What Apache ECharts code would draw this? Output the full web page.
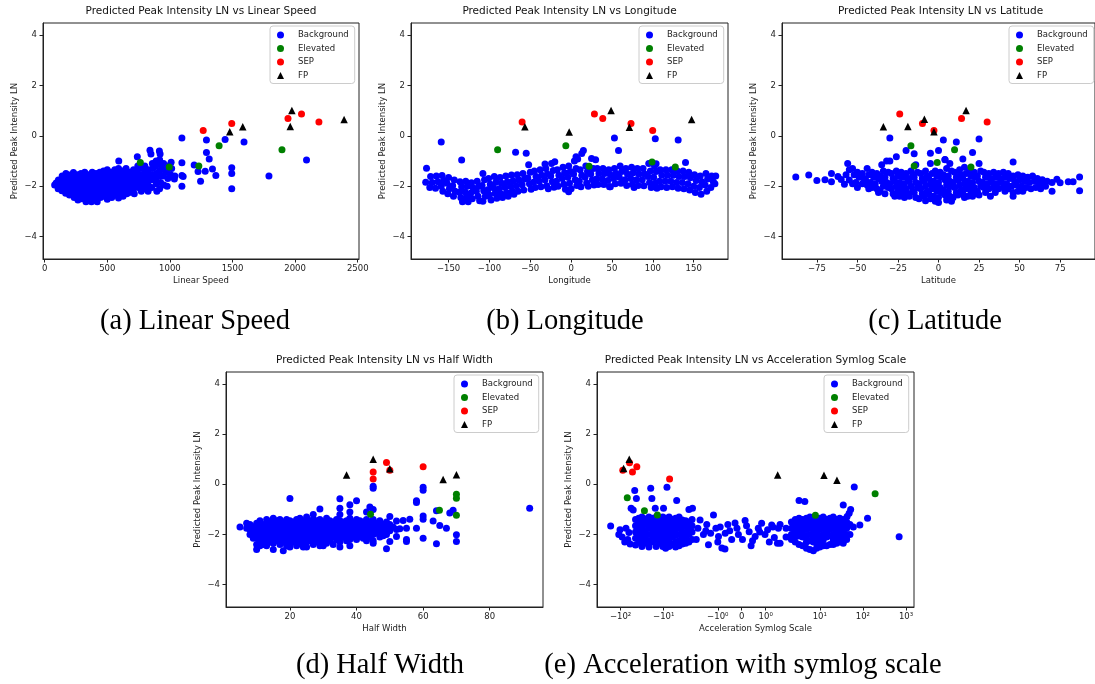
<!DOCTYPE html>
<html>
<head>
<meta charset="utf-8">
<script src="https://cdn.jsdelivr.net/npm/echarts@6/dist/echarts.min.js"></script>
<style>
  html, body { margin: 0; padding: 0; background: #fff; }
  #chart { width: 1095px; height: 684px; }
</style>
</head>
<body>
<div id="chart"></div>
<script>
// categories shared by every panel
const classNames = ['Background', 'Elevated', 'SEP', 'FP'];
const classColors = ['#0000ff', '#008000', '#ff0000', '#000000'];
const yTicks = [-4, -2, 0, 2, 4];

// (a) Linear Speed
const speedTicks = [0, 500, 1000, 1500, 2000, 2500];
const speedBg = [
  [80,-1.95],[92,-1.87],[110,-1.76],[115,-1.97],[108,-2.1],
  [140,-1.6],[135,-1.81],[145,-2.0],[138,-2.18],
  [170,-1.5],[175,-1.7],[165,-1.9],[172,-2.1],[168,-2.28],
  [200,-1.56],[205,-1.76],[196,-1.95],[202,-2.15],[198,-2.35],
  [230,-1.46],[226,-1.66],[234,-1.85],[228,-2.05],[232,-2.25],[236,-2.45],
  [260,-1.55],[264,-1.75],[258,-1.95],[262,-2.15],[256,-2.35],[266,-2.55],
  [290,-1.5],[286,-1.7],[294,-1.9],[288,-2.1],[292,-2.3],[296,-2.5],
  [320,-1.45],[324,-1.65],[318,-1.85],[322,-2.05],[316,-2.25],[326,-2.45],[330,-2.62],
  [350,-1.55],[354,-1.75],[348,-1.95],[352,-2.15],[346,-2.35],[356,-2.55],
  [380,-1.45],[376,-1.65],[384,-1.85],[378,-2.05],[382,-2.25],[386,-2.45],[374,-2.62],
  [410,-1.5],[414,-1.7],[408,-1.9],[412,-2.1],[406,-2.3],[416,-2.5],[420,-2.62],
  [440,-1.45],[444,-1.65],[438,-1.85],[442,-2.05],[436,-2.25],[446,-2.45],
  [470,-1.4],[466,-1.6],[474,-1.8],[468,-2.0],[472,-2.2],[476,-2.4],
  [500,-1.35],[504,-1.55],[498,-1.75],[502,-1.95],[496,-2.15],[506,-2.35],[500,-2.52],
  [530,-1.45],[534,-1.65],[528,-1.85],[532,-2.05],[526,-2.25],[536,-2.45],
  [560,-1.35],[556,-1.55],[564,-1.75],[558,-1.95],[562,-2.15],[566,-2.35],
  [592,-1.0],[590,-1.3],[594,-1.5],[588,-1.7],[592,-1.9],[586,-2.1],[596,-2.3],[590,-2.47],
  [620,-1.4],[624,-1.6],[618,-1.8],[622,-2.0],[616,-2.2],[626,-2.4],
  [650,-1.3],[646,-1.5],[654,-1.7],[648,-1.9],[652,-2.1],[656,-2.3],
  [680,-1.45],[684,-1.65],[678,-1.85],[682,-2.05],[676,-2.25],
  [710,-1.35],[714,-1.55],[708,-1.75],[712,-1.95],[706,-2.15],[716,-2.3],
  [740,-0.83],[744,-1.2],[738,-1.45],[742,-1.65],[736,-1.85],[746,-2.05],
  [770,-1.3],[766,-1.55],[774,-1.75],[768,-1.95],[772,-2.2],
  [800,-1.2],[804,-1.45],[798,-1.65],[802,-1.9],[796,-2.1],
  [830,-1.35],[834,-1.6],[828,-1.8],[832,-2.0],[826,-2.2],
  [841,-0.57],[849,-0.72],
  [860,-1.1],[864,-1.3],[858,-1.55],[862,-1.75],[856,-2.05],
  [890,-1.0],[886,-1.2],[894,-1.5],[888,-1.7],[892,-1.9],[896,-2.2],
  [916,-0.6],[922,-0.72],[918,-0.95],[924,-1.15],[916,-1.4],[920,-1.6],[926,-1.85],[918,-2.1],
  [950,-1.1],[954,-1.35],[948,-1.6],[952,-1.95],
  [980,-1.2],[976,-1.45],[984,-1.7],[978,-2.0],
  [1010,-1.05],[1014,-1.3],[1006,-1.55],
  [1040,-1.6],[1036,-1.72],
  [1096,-0.09],[1292,-0.17],[1292,-0.66],[1314,-0.92],[1441,-0.15],[1592,-0.25],
  [1194,-1.16],[1245,-1.8],[1282,-1.41],[1340,-1.32],[1367,-1.58],[1096,-1.07],
  [1096,-1.58],[1096,-2.0],[1494,-1.27],[1494,-1.5],[1494,-2.1],[1791,-1.6],
  [2091,-0.96],[1225,-1.42],[1106,-1.62]
];
const speedElevated = [[764,-1.06],[995,-1.24],[1231,-1.2],[1393,-0.4],[1895,-0.55]];
const speedSEP = [[1266,0.21],[1494,0.49],[1943,0.69],[2051,0.86],[2190,0.55]];
const speedFP = [[1478,0.16],[1582,0.36],[1974,1.0],[1961,0.37],[2391,0.65]];

// (b) Longitude
const lonTicks = [-150, -100, -50, 0, 50, 100, 150];
const lonBg = [
  [-177,-1.29],[-178,-1.84],
  [-172,-1.62],[-170,-1.85],[-173,-2.05],
  [-165,-1.6],[-163,-1.82],[-166,-2.08],
  [-158,-1.58],[-156,-1.78],[-159,-2.0],[-157,-2.2],
  [-150,-1.66],[-152,-1.88],[-149,-2.1],[-151,-2.3],
  [-143,-1.76],[-145,-1.98],[-142,-2.2],[-144,-2.4],
  [-136,-1.82],[-134,-2.02],[-137,-2.24],[-135,-2.45],[-133,-2.62],
  [-129,-1.8],[-127,-2.0],[-130,-2.22],[-128,-2.43],[-126,-2.62],
  [-122,-1.86],[-120,-2.06],[-123,-2.28],[-121,-2.5],
  [-115,-1.8],[-113,-2.0],[-116,-2.2],[-114,-2.4],[-112,-2.58],
  [-108,-1.5],[-106,-1.75],[-109,-1.97],[-107,-2.18],[-105,-2.4],[-108,-2.6],
  [-101,-1.7],[-99,-1.92],[-102,-2.14],[-100,-2.35],[-98,-2.55],
  [-94,-1.62],[-92,-1.84],[-95,-2.06],[-93,-2.28],[-91,-2.48],
  [-87,-1.66],[-85,-1.88],[-88,-2.1],[-86,-2.3],[-84,-2.45],
  [-80,-1.6],[-78,-1.82],[-81,-2.04],[-79,-2.25],[-77,-2.4],
  [-73,-1.56],[-71,-1.78],[-74,-2.0],[-72,-2.2],[-70,-2.32],
  [-66,-1.55],[-64,-1.76],[-67,-1.98],[-65,-2.2],
  [-59,-1.5],[-57,-1.72],[-60,-1.94],[-58,-2.15],
  [-52,-1.15],[-50,-1.45],[-53,-1.68],[-51,-1.9],[-49,-2.12],
  [-45,-1.4],[-43,-1.62],[-46,-1.84],[-44,-2.05],
  [-38,-1.35],[-36,-1.57],[-39,-1.8],[-37,-2.02],
  [-31,-1.3],[-29,-1.52],[-32,-1.75],[-30,-1.98],[-28,-2.1],
  [-24,-1.1],[-22,-1.38],[-25,-1.6],[-23,-1.82],[-21,-2.04],
  [-17,-1.35],[-15,-1.57],[-18,-1.8],[-16,-2.0],
  [-10,-1.25],[-8,-1.47],[-11,-1.7],[-9,-1.92],[-7,-2.12],
  [-3,-1.2],[-1,-1.42],[-4,-1.65],[-2,-1.88],[0,-2.1],[-3,-2.22],
  [4,-1.0],[6,-1.3],[3,-1.52],[5,-1.75],[7,-1.97],
  [11,-1.35],[13,-1.57],[10,-1.8],[12,-2.02],
  [15,-0.58],[13,-0.7],[6,-0.83],[8,-0.92],
  [18,-1.2],[20,-1.42],[17,-1.65],[19,-1.87],[21,-2.0],
  [25,-0.9],[27,-1.3],[24,-1.52],[26,-1.75],[28,-1.95],
  [32,-1.3],[34,-1.5],[31,-1.72],[33,-1.93],
  [39,-1.3],[41,-1.5],[38,-1.72],[40,-1.93],
  [46,-1.35],[48,-1.55],[45,-1.77],[47,-2.02],
  [53,-1.3],[55,-1.5],[52,-1.7],[54,-1.9],
  [60,-1.2],[62,-1.42],[59,-1.65],[61,-1.88],
  [67,-1.3],[69,-1.52],[66,-1.75],[68,-1.97],
  [74,-1.25],[76,-1.47],[73,-1.7],[75,-1.92],[77,-2.05],
  [81,-1.3],[83,-1.52],[80,-1.75],[82,-1.97],
  [88,-1.3],[90,-1.52],[87,-1.75],[89,-1.98],
  [95,-1.1],[97,-1.4],[94,-1.62],[96,-1.85],[98,-2.05],
  [102,-1.2],[104,-1.42],[101,-1.65],[103,-1.88],[105,-2.08],
  [109,-1.35],[111,-1.57],[108,-1.8],[110,-2.02],
  [116,-1.35],[118,-1.57],[115,-1.8],[117,-2.05],
  [123,-1.35],[125,-1.57],[122,-1.8],[124,-2.02],
  [130,-1.4],[132,-1.62],[129,-1.85],[131,-2.08],
  [137,-1.4],[139,-1.62],[136,-1.85],[138,-2.1],
  [144,-1.45],[146,-1.67],[143,-1.9],[145,-2.15],
  [151,-1.55],[153,-1.77],[150,-2.0],[152,-2.25],
  [158,-1.6],[160,-1.82],[157,-2.05],[159,-2.32],
  [165,-1.5],[167,-1.72],[164,-1.95],[166,-2.2],
  [172,-1.6],[174,-1.82],[171,-2.05],
  [177,-1.6],[176,-1.9],
  [-159,-0.25],[-134,-0.96],[-68,-0.65],[-55,-0.69],[53,-0.09],[103,-0.12],
  [131,-0.17],[58,-0.58],[104,-1.11],[140,-1.06],[48,-2.02],[-20,-1.03],
  [-32,-1.12],[30,-0.95]
];
const lonElevated = [[-90,-0.55],[-6.5,-0.4],[22,-1.21],[99,-1.04],[127.5,-1.24]];
const lonSEP = [[-60,0.55],[28.5,0.86],[38.7,0.69],[73.3,0.49],[99.8,0.21]];
const lonFP = [[-56.6,0.36],[-2.4,0.15],[48.9,1.0],[71.3,0.34],[147.5,0.65]];

// (c) Latitude
const latTicks = [-75, -50, -25, 0, 25, 50, 75];
const latBg = [
  [-88,-1.64],[-80,-1.56],[-75,-1.77],[-70,-1.75],[-66,-1.5],[-66,-1.82],[-62,-1.62],[-60,-1.74],[-58,-1.92],
  [-56,-1.1],[-55,-1.35],[-57,-1.55],[-55,-1.76],
  [-53,-1.3],[-52,-1.55],[-53,-1.9],
  [-50,-1.45],[-49,-1.65],[-51,-1.85],[-50,-2.05],
  [-47,-1.5],[-46,-1.7],[-47,-1.9],
  [-44,-1.3],[-43,-1.55],[-45,-1.75],[-44,-1.95],[-43,-2.1],
  [-41,-1.45],[-40,-1.65],[-42,-1.85],[-41,-2.05],
  [-38,-1.5],[-37,-1.7],[-39,-1.9],[-38,-2.1],[-37,-2.25],
  [-35,-1.15],[-34,-1.4],[-36,-1.6],[-35,-1.8],[-34,-2.0],[-36,-2.2],
  [-32,-1.0],[-31,-1.45],[-33,-1.65],[-32,-1.85],[-31,-2.05],[-33,-2.3],
  [-29,-1.5],[-28,-1.7],[-30,-1.9],[-29,-2.1],[-28,-2.3],
  [-26,-1.4],[-25,-1.6],[-27,-1.8],[-26,-2.0],[-25,-2.2],[-27,-2.4],
  [-23,-1.45],[-22,-1.65],[-24,-1.85],[-23,-2.05],[-22,-2.25],[-24,-2.4],
  [-20,-1.5],[-19,-1.7],[-21,-1.9],[-20,-2.1],[-19,-2.3],[-21,-2.45],
  [-17,-1.4],[-16,-1.6],[-18,-1.8],[-17,-2.0],[-16,-2.2],[-18,-2.4],
  [-14,-1.15],[-13,-1.45],[-15,-1.65],[-14,-1.85],[-13,-2.05],[-15,-2.25],[-14,-2.45],
  [-11,-1.5],[-10,-1.7],[-12,-1.9],[-11,-2.1],[-10,-2.3],[-12,-2.5],
  [-8,-1.4],[-7,-1.6],[-9,-1.8],[-8,-2.0],[-7,-2.2],[-9,-2.4],[-8,-2.58],
  [-5,-1.1],[-4,-1.5],[-6,-1.7],[-5,-1.9],[-4,-2.1],[-6,-2.3],[-5,-2.5],
  [-2,-1.4],[-1,-1.6],[-3,-1.8],[-2,-2.0],[-1,-2.2],[-3,-2.4],[-2,-2.6],
  [1,-1.45],[2,-1.65],[0,-1.85],[1,-2.05],[2,-2.25],[0,-2.45],[0,-2.65],
  [4,-0.95],[5,-1.3],[3,-1.55],[4,-1.75],[5,-1.95],[3,-2.15],[4,-2.35],[5,-2.55],
  [7,-1.1],[8,-1.4],[6,-1.6],[7,-1.8],[8,-2.0],[6,-2.2],[7,-2.4],[8,-2.6],
  [10,-1.45],[11,-1.65],[9,-1.85],[10,-2.05],[11,-2.25],[9,-2.45],
  [13,-1.35],[14,-1.55],[12,-1.75],[13,-1.95],[14,-2.15],[12,-2.35],
  [16,-1.25],[17,-1.5],[15,-1.7],[16,-1.9],[17,-2.1],[15,-2.3],[16,-2.45],
  [19,-1.4],[20,-1.6],[18,-1.8],[19,-2.0],[20,-2.2],[18,-2.4],
  [22,-1.45],[23,-1.65],[21,-1.85],[22,-2.05],[23,-2.25],[21,-2.4],
  [25,-1.1],[26,-1.4],[24,-1.6],[25,-1.8],[26,-2.0],[24,-2.2],[25,-2.35],
  [28,-1.45],[29,-1.65],[27,-1.85],[28,-2.05],[29,-2.25],
  [31,-1.5],[32,-1.7],[30,-1.9],[31,-2.1],[32,-2.4],
  [34,-1.45],[35,-1.65],[33,-1.85],[34,-2.05],[35,-2.25],
  [37,-1.5],[38,-1.7],[36,-1.9],[37,-2.1],
  [40,-1.45],[41,-1.65],[39,-1.85],[40,-2.05],[41,-2.2],
  [43,-1.5],[44,-1.7],[42,-1.9],[43,-2.1],
  [46,-1.6],[47,-1.8],[45,-2.0],[46,-2.25],[46,-2.4],
  [49,-1.55],[50,-1.75],[48,-1.95],[49,-2.2],
  [52,-1.6],[53,-1.8],[51,-2.0],[52,-2.2],
  [55,-1.65],[56,-1.85],[54,-2.05],
  [58,-1.6],[59,-1.8],[57,-2.1],
  [61,-1.7],[62,-1.9],[60,-2.05],
  [64,-1.75],[65,-1.9],[63,-2.1],
  [67,-1.8],[66,-2.0],
  [70,-1.85],[70,-2.2],[73,-1.73],[75,-1.86],[80,-1.82],[83,-1.82],[87,-1.64],[87,-2.18],
  [-30,-0.09],[3,-0.17],[11,-0.25],[25,-0.13],[-20,-0.58],[-15,-0.71],[-5,-0.69],
  [0,-0.58],[21,-0.66],[-26,-0.83],[-30,-1.0],[4,-0.94],[15,-0.92],[46,-1.04]
];
const latElevated = [[-17,-0.4],[-15,-1.2],[-0.8,-1.06],[9.9,-0.55],[20,-1.24]];
const latSEP = [[-23.9,0.86],[-9.9,0.49],[-2.8,0.21],[14.2,0.69],[30,0.55]];
const latFP = [[-34,0.36],[-18.9,0.37],[-8.7,0.66],[-2.8,0.16],[17,1.0]];

// (d) Half Width
const widthTicks = [20, 40, 60, 80];
const widthBg = [
  [5,-1.7],[7,-1.55],[7,-1.75],[8,-1.6],[8,-1.8],[8,-2.0],[9,-1.7],[9,-1.95],[9,-2.15],
  [10,-1.55],[10,-1.75],[10,-1.95],[10,-2.15],[10,-2.4],[10,-2.6],
  [11,-1.45],[11,-1.65],[11,-1.85],[11,-2.05],[11,-2.25],[11,-2.45],
  [12,-1.6],[12,-1.8],[12,-2.0],[12,-2.2],[12,-2.4],
  [13,-1.4],[13,-1.6],[13,-1.8],[13,-2.0],[13,-2.2],[13,-2.45],
  [14,-1.5],[14,-1.7],[14,-1.9],[14,-2.1],[14,-2.3],
  [15,-1.35],[15,-1.55],[15,-1.75],[15,-1.95],[15,-2.15],[15,-2.35],[15,-2.6],
  [16,-1.45],[16,-1.65],[16,-1.85],[16,-2.05],[16,-2.25],
  [17,-1.4],[17,-1.6],[17,-1.8],[17,-2.0],[17,-2.2],[17,-2.4],
  [18,-1.5],[18,-1.7],[18,-1.9],[18,-2.1],[18,-2.3],[18,-2.65],
  [19,-1.4],[19,-1.6],[19,-1.8],[19,-2.0],[19,-2.2],[19,-2.45],
  [20,-0.57],[20,-1.45],[20,-1.65],[20,-1.85],[20,-2.05],[20,-2.25],[20,-2.5],
  [21,-1.5],[21,-1.7],[21,-1.9],[21,-2.1],[21,-2.3],
  [22,-1.4],[22,-1.6],[22,-1.8],[22,-2.0],[22,-2.2],[22,-2.45],
  [23,-1.35],[23,-1.55],[23,-1.75],[23,-1.95],[23,-2.15],[23,-2.35],
  [24,-1.45],[24,-1.65],[24,-1.85],[24,-2.05],[24,-2.25],[24,-2.5],
  [25,-1.3],[25,-1.5],[25,-1.7],[25,-1.9],[25,-2.1],[25,-2.3],[25,-2.5],
  [26,-1.45],[26,-1.65],[26,-1.85],[26,-2.05],[26,-2.25],
  [27,-1.2],[27,-1.4],[27,-1.6],[27,-1.8],[27,-2.0],[27,-2.2],[27,-2.4],
  [28,-1.45],[28,-1.65],[28,-1.85],[28,-2.05],[28,-2.3],
  [29,-0.98],[29,-1.4],[29,-1.6],[29,-1.8],[29,-2.0],[29,-2.2],[29,-2.45],
  [30,-1.5],[30,-1.7],[30,-1.9],[30,-2.1],[30,-2.3],[30,-2.45],
  [31,-1.35],[31,-1.55],[31,-1.75],[31,-1.95],[31,-2.15],[31,-2.35],
  [32,-1.45],[32,-1.65],[32,-1.85],[32,-2.05],[32,-2.25],
  [33,-1.5],[33,-1.7],[33,-1.9],[33,-2.1],[33,-2.4],
  [34,-1.4],[34,-1.6],[34,-1.8],[34,-2.0],[34,-2.2],
  [35,-0.58],[35,-0.95],[35,-1.2],[35,-1.45],[35,-1.65],[35,-1.85],[35,-2.05],[35,-2.3],[35,-2.5],
  [36,-1.5],[36,-1.7],[36,-1.9],[36,-2.1],
  [37,-1.45],[37,-1.65],[37,-1.85],[37,-2.05],[37,-2.25],
  [38,-0.82],[38,-1.1],[38,-1.35],[38,-1.6],[38,-1.8],[38,-2.0],[38,-2.2],[38,-2.45],
  [39,-1.5],[39,-1.7],[39,-1.9],[39,-2.1],
  [40,-0.66],[40,-1.4],[40,-1.6],[40,-1.8],[40,-2.0],[40,-2.2],
  [41,-1.45],[41,-1.65],[41,-1.85],[41,-2.05],
  [42,-1.5],[42,-1.7],[42,-1.9],[42,-2.15],
  [43,-1.1],[43,-1.4],[43,-1.6],[43,-1.8],[43,-2.0],[43,-2.25],
  [44,-0.9],[44,-1.5],[44,-1.7],[44,-1.9],[44,-2.1],
  [45,-0.08],[45,-0.16],[45,-1.0],[45,-1.4],[45,-1.6],[45,-1.8],[45,-2.0],[45,-2.25],[45,-2.35],
  [46,-1.55],[46,-1.75],[46,-1.95],
  [47,-1.45],[47,-1.7],[47,-1.9],[47,-2.1],
  [48,-1.6],[48,-1.8],[48,-2.05],
  [49,-1.5],[49,-1.75],[49,-2.0],[49,-2.57],
  [50,-1.28],[50,-1.6],[50,-1.85],[50,-2.28],
  [51,-1.7],[52,-1.46],[52,-1.8],[52,-2.08],[53,-1.77],[54,-1.44],
  [55,-1.75],[55,-2.2],[55,-2.28],[56,-1.39],
  [58,-0.66],[58,-0.73],[58,-1.75],
  [60,-0.12],[60,-0.24],[60,-1.26],[60,-1.39],[60,-2.15],
  [63,-1.46],[64,-1.05],[64,-2.37],[65,-1.64],[67,-1.75],[68,-1.14],[69,-1.03],
  [70,-2.01],[70,-2.28],[92,-0.95]
];
const widthElevated = [[44.2,-1.19],[64.9,-1.03],[70,-0.4],[70,-0.56],[70,-1.23]];
const widthSEP = [[45,0.49],[45,0.21],[49,0.87],[50,0.56],[60,0.7]];
const widthFP = [[37,0.37],[45,1.0],[50,0.62],[66,0.19],[70,0.38]];

// (e) Acceleration, drawn on a symlog axis (linthresh 2)
const accelTicks = [-100, -10, -1, 0, 1, 10, 100, 1000];
const accelTickLabels = ['\u221210\u00b2', '\u221210\u00b9', '\u221210\u2070', '0', '10\u2070', '10\u00b9', '10\u00b2', '10\u00b3'];
const accelBg = [
  [-170,-1.66],[-103,-1.81],[-110,-2.0],[-92,-2.1],[-75,-1.75],[-80,-2.3],[-68,-2.2],
  [-60,-2.38],[-57,-0.95],[-51,-1.02],[-47,-0.25],[-43,-0.57],[-64,-1.92],[-20,-0.16],
  [-18.8,-0.57],[-8.4,-0.12],[-5,-0.65],[-15.7,-0.95],[-10.1,-0.95],[-2.15,-0.95],
  [-45,-1.4],[-45,-1.65],[-45,-1.9],[-45,-2.15],[-45,-2.42],
  [-38,-1.35],[-38,-1.55],[-38,-1.8],[-38,-2.05],[-38,-2.3],
  [-32,-1.3],[-32,-1.5],[-32,-1.72],[-32,-1.95],[-32,-2.2],[-32,-2.48],
  [-27,-1.38],[-27,-1.6],[-27,-1.85],[-27,-2.1],[-27,-2.35],
  [-22,-1.3],[-22,-1.52],[-22,-1.75],[-22,-2.0],[-22,-2.25],[-22,-2.5],
  [-18,-1.35],[-18,-1.58],[-18,-1.82],[-18,-2.06],[-18,-2.3],
  [-15,-1.3],[-15,-1.5],[-15,-1.72],[-15,-1.95],[-15,-2.2],[-15,-2.48],
  [-12.5,-1.38],[-12.5,-1.6],[-12.5,-1.85],[-12.5,-2.1],[-12.5,-2.35],
  [-10.5,-1.3],[-10.5,-1.52],[-10.5,-1.75],[-10.5,-2.0],[-10.5,-2.25],[-10.5,-2.48],
  [-9,-1.35],[-9,-1.58],[-9,-1.82],[-9,-2.06],[-9,-2.3],[-9,-2.55],
  [-7.5,-1.3],[-7.5,-1.52],[-7.5,-1.75],[-7.5,-2.0],[-7.5,-2.25],[-7.5,-2.48],
  [-6.3,-1.4],[-6.3,-1.62],[-6.3,-1.86],[-6.3,-2.1],[-6.3,-2.4],
  [-5.3,-1.35],[-5.3,-1.55],[-5.3,-1.78],[-5.3,-2.02],[-5.3,-2.28],[-5.3,-2.5],
  [-4.4,-1.3],[-4.4,-1.52],[-4.4,-1.75],[-4.4,-2.0],[-4.4,-2.25],[-4.4,-2.45],
  [-3.7,-1.42],[-3.7,-1.65],[-3.7,-1.9],[-3.7,-2.15],[-3.7,-2.38],
  [-3.1,-1.45],[-3.1,-1.68],[-3.1,-1.92],[-3.1,-2.15],[-3.1,-2.35],
  [-2.6,-1.0],[-2.6,-1.5],[-2.6,-1.75],[-2.6,-2.0],[-2.6,-2.3],
  [-2.2,-1.4],[-2.2,-1.65],[-2.2,-1.9],[-2.2,-2.2],
  [-1.9,-2.2],[-1.83,-1.75],[-1.74,-1.42],[-1.6,-2.0],[-1.5,-1.85],[-1.46,-1.6],
  [-1.39,-2.41],[-1.3,-1.95],[-1.18,-1.22],[-1.08,-1.75],[-1.0,-2.3],[-0.97,-2.08],
  [-0.9,-1.7],[-0.83,-2.54],[-0.7,-2.58],[-0.69,-1.95],[-0.58,-1.6],[-0.5,-1.85],
  [-0.42,-2.2],[-0.28,-1.54],[-0.2,-1.75],[-0.14,-2.0],[0.03,-2.2],[0.14,-1.44],
  [0.2,-1.65],[0.31,-1.89],[0.39,-2.45],[0.45,-2.25],[0.56,-2.08],[0.69,-1.75],
  [0.75,-1.9],[0.83,-1.55],[0.97,-2.0],[1.08,-1.81],[1.15,-2.3],[1.25,-1.62],
  [1.3,-1.7],[1.36,-2.12],[1.49,-2.35],[1.53,-1.75],
  [1.6,-1.6],[1.6,-2.35],[1.85,-1.75],[1.85,-2.1],
  [2.2,-1.5],[2.2,-1.75],[2.2,-2.0],[2.2,-2.2],
  [2.7,-1.4],[2.7,-1.62],[2.7,-1.85],[2.7,-2.08],[2.7,-2.3],
  [3.3,-0.65],[3.3,-1.35],[3.3,-1.58],[3.3,-1.82],[3.3,-2.06],[3.3,-2.4],
  [4.0,-1.4],[4.0,-1.62],[4.0,-1.86],[4.0,-2.1],[4.0,-2.45],[4.5,-0.69],
  [4.9,-1.35],[4.9,-1.57],[4.9,-1.8],[4.9,-2.05],[4.9,-2.3],[4.9,-2.55],
  [5.9,-1.3],[5.9,-1.52],[5.9,-1.75],[5.9,-2.0],[5.9,-2.25],[5.9,-2.6],
  [7.1,-1.35],[7.1,-1.58],[7.1,-1.82],[7.1,-2.06],[7.1,-2.3],[7.1,-2.65],
  [8.4,-1.4],[8.4,-1.62],[8.4,-1.86],[8.4,-2.1],[8.4,-2.35],[8.4,-2.55],
  [10,-1.35],[10,-1.57],[10,-1.8],[10,-2.05],[10,-2.28],[10,-2.5],
  [12,-1.3],[12,-1.52],[12,-1.75],[12,-2.0],[12,-2.22],[12,-2.45],
  [14.4,-1.4],[14.4,-1.62],[14.4,-1.86],[14.4,-2.1],[14.4,-2.45],
  [17.2,-1.35],[17.2,-1.57],[17.2,-1.8],[17.2,-2.05],[17.2,-2.4],
  [20.5,-1.3],[20.5,-1.52],[20.5,-1.75],[20.5,-2.0],[20.5,-2.22],[20.5,-2.4],
  [24.5,-1.4],[24.5,-1.62],[24.5,-1.86],[24.5,-2.1],[24.5,-2.35],
  [29,-1.35],[29,-1.57],[29,-1.8],[29,-2.05],[29,-2.3],
  [35,-0.83],[35,-1.4],[35,-1.62],[35,-1.86],[35,-2.1],[35,-2.35],
  [42,-1.5],[42,-1.75],[42,-2.0],[42,-2.2],[43,-1.28],
  [48,-1.15],[50,-1.6],[50,-2.0],[52,-1.0],[60,-1.7],[63,-0.11],
  [85,-1.62],[128,-1.35],[692,-2.09]
];
const accelElevated = [[-70,-0.54],[-28,-1.05],[-14,-1.22],[7.9,-1.23],[192,-0.38]];
const accelSEP = [[-89,0.56],[-62,0.86],[-53,0.49],[-42,0.7],[-7.3,0.21]];
const accelFP = [[-85,0.63],[-63,1.0],[1.5,0.37],[12.5,0.36],[25,0.16]];

// matplotlib symlog transform, linthresh = 2, linscale = 1, base 10
function symlog(v) {
  const c = 2, s = 1 / (1 - 1 / 10);
  const a = Math.abs(v);
  const t = a <= c ? (a / c) * s : s + Math.log10(a / c);
  return v < 0 ? -t : t;
}
const toSymlog = pts => pts.map(p => [symlog(p[0]), p[1]]);

const minus = v => String(v).replace('-', '\u2212');
const FONT = 'DejaVu Sans';

const panels = [
  { name: 'Linear Speed', caption: '(a) Linear Speed', grid: [43, 23, 316, 236], xr: [-13, 2510],
    ticks: speedTicks, legend: [270, 26], capX: 195, capY: 307,
    sets: [speedBg, speedElevated, speedSEP, speedFP] },
  { name: 'Longitude', caption: '(b) Longitude', grid: [411, 23, 317, 236], xr: [-196, 192],
    ticks: lonTicks, legend: [639, 26], capX: 565, capY: 307,
    sets: [lonBg, lonElevated, lonSEP, lonFP] },
  { name: 'Latitude', caption: '(c) Latitude', grid: [782, 23, 317, 236], xr: [-96.5, 96.5],
    ticks: latTicks, legend: [1009, 26], capX: 935, capY: 307,
    sets: [latBg, latElevated, latSEP, latFP] },
  { name: 'Half Width', caption: '(d) Half Width', grid: [226, 372, 317, 235], xr: [0.8, 96],
    ticks: widthTicks, legend: [454, 375], capX: 380, capY: 651,
    sets: [widthBg, widthElevated, widthSEP, widthFP] },
  { name: 'Acceleration Symlog Scale', caption: '(e) Acceleration with symlog scale',
    grid: [597, 372, 317, 235], xr: [-3.357, 3.995],
    ticks: accelTicks.map(symlog), labels: accelTickLabels, legend: [824, 375], capX: 743, capY: 651,
    sets: [toSymlog(accelBg), toSymlog(accelElevated), toSymlog(accelSEP), toSymlog(accelFP)] }
];

const option = {
  backgroundColor: '#fff',
  animation: false,
  title: [],
  legend: [],
  grid: [],
  xAxis: [],
  yAxis: [],
  series: []
};

panels.forEach((p, i) => {
  const [gl, gt, gw, gh] = p.grid;
  option.grid.push({
    left: gl, top: gt, width: gw, height: gh,
    show: true, borderColor: '#222', borderWidth: 1, backgroundColor: 'transparent'
  });

  option.title.push({
    text: 'Predicted Peak Intensity LN vs ' + p.name,
    left: gl + gw / 2, top: gt - 17, textAlign: 'center', padding: 0,
    textStyle: { fontFamily: FONT, fontSize: 10.5, fontWeight: 'normal', color: '#111' }
  });
  option.title.push({
    text: p.caption,
    left: p.capX, top: p.capY, textAlign: 'center', padding: 0,
    textStyle: { fontFamily: 'Liberation Serif', fontSize: 28.5, fontWeight: 'normal', color: '#000' }
  });

  option.xAxis.push({
    type: 'value', gridIndex: i, min: p.xr[0], max: p.xr[1],
    name: p.name, nameLocation: 'middle', nameGap: 17,
    nameTextStyle: { fontFamily: FONT, fontSize: 8.5, color: '#222' },
    axisLine: { show: true, onZero: false, lineStyle: { color: '#222', width: 1 } },
    axisTick: { show: true, length: 3.5, customValues: p.ticks, lineStyle: { color: '#222' } },
    axisLabel: {
      customValues: p.ticks, margin: 5, fontFamily: FONT, fontSize: 8.5, color: '#222',
      formatter: v => {
        if (p.labels) {
          const k = p.ticks.findIndex(t => Math.abs(t - v) < 1e-6);
          return k >= 0 ? p.labels[k] : '';
        }
        return minus(v);
      }
    },
    splitLine: { show: false }
  });
  option.yAxis.push({
    type: 'value', gridIndex: i, min: -4.89, max: 4.475,
    name: 'Predicted Peak Intensity LN', nameLocation: 'middle', nameGap: 24,
    nameTextStyle: { fontFamily: FONT, fontSize: 8.5, color: '#222' },
    axisLine: { show: true, onZero: false, lineStyle: { color: '#222', width: 1 } },
    axisTick: { show: true, length: 3.5, customValues: yTicks, lineStyle: { color: '#222' } },
    axisLabel: { customValues: yTicks, margin: 6, fontFamily: FONT, fontSize: 8.5, color: '#222', formatter: minus },
    splitLine: { show: false }
  });

  option.legend.push({
    left: p.legend[0], top: p.legend[1], orient: 'vertical',
    selectedMode: false, itemWidth: 7, itemHeight: 7, itemGap: 3.5,
    padding: [4, 6, 3, 7],
    borderColor: '#cccccc', borderWidth: 1, borderRadius: 3, backgroundColor: 'rgba(255,255,255,0.85)',
    textStyle: { fontFamily: FONT, fontSize: 8.5, color: '#222', lineHeight: 10, padding: [0, 0, 0, 9] },
    data: classNames.map((n, k) => ({ name: n, icon: k === 3 ? 'triangle' : 'circle' }))
  });

  p.sets.forEach((set, k) => {
    option.series.push({
      type: 'scatter', name: classNames[k], xAxisIndex: i, yAxisIndex: i,
      data: set,
      symbol: k === 3 ? 'triangle' : 'circle',
      symbolSize: k === 3 ? 7.5 : 7,
      itemStyle: { color: classColors[k], opacity: 1 },
      z: 2 + k
    });
  });
});

const chart = echarts.init(document.getElementById('chart'), null, { renderer: 'canvas' });
chart.setOption(option);
</script>
</body>
</html>
